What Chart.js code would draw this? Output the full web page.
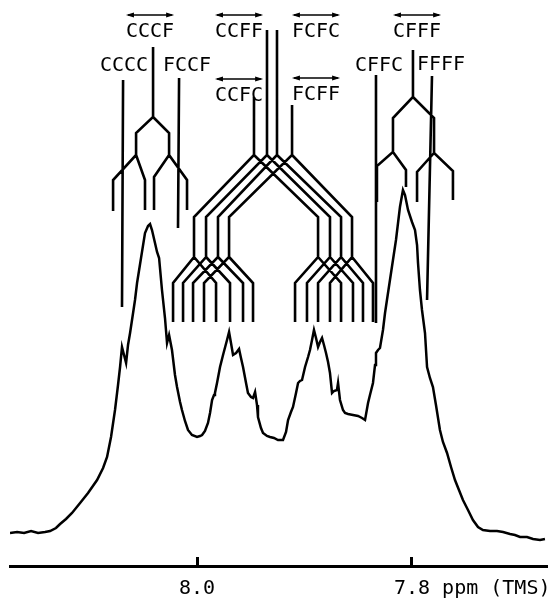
<!DOCTYPE html>
<html>
<head>
<meta charset="utf-8">
<script src="https://cdn.jsdelivr.net/npm/chart.js@4"></script>
<style>
	html, body { margin: 0; padding: 0; background: #fff; }
	canvas { display: block; }
</style>
</head>
<body>
<canvas id="nmr" width="558" height="603"></canvas>
<script>
"use strict";

// Spectrum trace: chemical shift (ppm) and signal height (arbitrary units, 0 = axis)
const shiftPpm = [
	8.1740, 8.1674, 8.1609, 8.1544, 8.1479, 8.1414, 8.1367, 8.1312, 8.1274, 8.1219,
	8.1163, 8.1088, 8.1014, 8.0930, 8.0874, 8.0837, 8.0800, 8.0763, 8.0735, 8.0716,
	8.0698, 8.0679, 8.0660, 8.0642, 8.0623, 8.0595, 8.0577, 8.0558, 8.0521, 8.0484,
	8.0456, 8.0437, 8.0419, 8.0391, 8.0372, 8.0353, 8.0326, 8.0298, 8.0279, 8.0260,
	8.0233, 8.0205, 8.0186, 8.0158, 8.0140, 8.0112, 8.0084, 8.0047, 8.0000, 7.9972,
	7.9953, 7.9926, 7.9898, 7.9879, 7.9860, 7.9842, 7.9833, 7.9814, 7.9786, 7.9758,
	7.9721, 7.9702, 7.9684, 7.9665, 7.9637, 7.9609, 7.9591, 7.9572, 7.9544, 7.9526,
	7.9498, 7.9479, 7.9460, 7.9442, 7.9433, 7.9405, 7.9386, 7.9349, 7.9321, 7.9284,
	7.9247, 7.9200, 7.9172, 7.9153, 7.9126, 7.9107, 7.9079, 7.9060, 7.9042, 7.9023,
	7.8995, 7.8967, 7.8949, 7.8930, 7.8912, 7.8893, 7.8874, 7.8856, 7.8837, 7.8819,
	7.8800, 7.8781, 7.8763, 7.8744, 7.8726, 7.8698, 7.8688, 7.8670, 7.8642, 7.8623,
	7.8595, 7.8549, 7.8502, 7.8465, 7.8437, 7.8409, 7.8391, 7.8363, 7.8344, 7.8335,
	7.8316, 7.8298, 7.8270, 7.8251, 7.8233, 7.8205, 7.8177, 7.8149, 7.8130, 7.8112,
	7.8084, 7.8065, 7.8037, 7.8000, 7.7972, 7.7953, 7.7944, 7.7926, 7.7907, 7.7879,
	7.7860, 7.7833, 7.7805, 7.7777, 7.7740, 7.7712, 7.7674, 7.7637, 7.7600, 7.7563,
	7.7526, 7.7479, 7.7433, 7.7386, 7.7340, 7.7274, 7.7209, 7.7153, 7.7088, 7.7042,
	7.6995, 7.6930, 7.6874, 7.6809, 7.6763,
];
const signal = [
	33, 34, 33, 35, 33, 34, 35, 38, 42, 47,
	53, 63, 73, 86, 98, 109, 129, 156, 181, 199,
	219, 211, 203, 221, 233, 253, 266, 283, 308, 333,
	340, 342, 336, 323, 314, 308, 276, 248, 223, 231,
	216, 191, 179, 164, 156, 145, 136, 131, 129, 130,
	131, 135, 143, 153, 166, 171, 173, 183, 199, 211,
	226, 234, 223, 211, 213, 217, 208, 199, 183, 173,
	169, 168, 174, 161, 149, 138, 133, 130, 129, 128,
	126, 126, 134, 146, 154, 159, 173, 183, 185, 186,
	199, 209, 216, 226, 236, 228, 219, 224, 228, 221,
	213, 204, 193, 173, 175, 176, 183, 166, 156, 153,
	152, 151, 150, 148, 146, 163, 171, 183, 201, 213,
	216, 218, 236, 253, 266, 286, 306, 326, 343, 359,
	376, 371, 356, 344, 336, 321, 303, 276, 256, 233,
	199, 188, 179, 161, 136, 124, 113, 99, 86, 76,
	66, 56, 46, 39, 36, 35, 35, 34, 32, 31,
	29, 29, 27, 26, 27,
];

const tickValues = [8.0, 7.8];
const unitText = "ppm (TMS)";

// Tetrad labels: name, shift of label centre, height of text baseline, overline arrow
const tetradNames = ["CCCF", "CCCC", "FCCF", "CCFF", "CCFC", "FCFC", "FCFF", "CFFF", "CFFC", "FFFF"];
const tetradPpm = [8.0437, 8.0679, 8.0093, 7.9609, 7.9609, 7.8893, 7.8893, 7.7953, 7.8307, 7.7730];
const tetradLevel = [529, 495, 495, 529, 465, 529, 466, 529, 495, 496];
const tetradArrow = [true, false, false, true, true, true, true, true, false, false];

// Splitting diagram of CCCF (left), lines as [ppm, height] points
const cccfTree = [
	[[8.0409, 519], [8.0409, 449], [8.0567, 433], [8.0567, 411], [8.0781, 386], [8.0781, 355]],
	[[8.0409, 449], [8.0260, 433], [8.0260, 411], [8.0093, 386], [8.0093, 356]],
	[[8.0567, 411], [8.0484, 386], [8.0484, 356]],
	[[8.0260, 411], [8.0400, 389], [8.0400, 356]],
];
const ccccLine = [[8.0688, 486], [8.0698, 259]];
const fccfLine = [[8.0167, 488], [8.0177, 338]];

// Splitting diagram of CFFF (right)
const cfffTree = [
	[[7.7991, 516], [7.7991, 469], [7.8177, 448], [7.8177, 414], [7.8326, 400], [7.8326, 364]],
	[[7.7991, 469], [7.7795, 448], [7.7795, 413], [7.7619, 395], [7.7619, 366]],
	[[7.8177, 414], [7.8056, 396], [7.8056, 379]],
	[[7.7795, 413], [7.7953, 394], [7.7953, 364]],
];
const cffcLine = [[7.8335, 491], [7.8335, 243]];
const ffffLine = [[7.7814, 490], [7.7860, 266]];

// Central diagram: CCFC, CCFF, FCFC, FCFF each split twice
const midRootPpm = [7.9470, 7.9349, 7.9256, 7.9116];
const midRootTop = [469, 536, 536, 461];
const midLeftNode = [8.0028, 7.9916, 7.9805, 7.9702];
const midRightNode = [7.8874, 7.8763, 7.8660, 7.8558];
const midLeftEnds = [[8.0223, 7.9823], [8.0130, 7.9693], [8.0037, 7.9572], [7.9935, 7.9479]];
const midRightEnds = [[7.9088, 7.8660], [7.8977, 7.8549], [7.8874, 7.8456], [7.8763, 7.8363]];
const midLevels = [411, 349, 309, 283, 244];

const FONT = "DejaVu Sans Mono";
const TICK_LEN = -9;
const TICK_PAD = 20;

function midTree() {
	const lines = [];
	const [split, node, sub, branch, end] = midLevels;
	for (let i = 0; i < midRootPpm.length; ++i) {
		const r = midRootPpm[i];
		const l = midLeftNode[i];
		const rr = midRightNode[i];
		lines.push([[r, midRootTop[i]], [r, split], [l, node], [l, sub], [midLeftEnds[i][0], branch], [midLeftEnds[i][0], end]]);
		lines.push([[l, sub], [midLeftEnds[i][1], branch], [midLeftEnds[i][1], end]]);
		lines.push([[r, split], [rr, node], [rr, sub], [midRightEnds[i][0], branch], [midRightEnds[i][0], end]]);
		lines.push([[rr, sub], [midRightEnds[i][1], branch], [midRightEnds[i][1], end]]);
	}
	return lines;
}

function toPoints(lines) {
	const pts = [];
	for (const line of lines) {
		for (const [x, y] of line) {
			pts.push({x: x, y: y});
		}
		// gap between separate lines
		pts.push({x: line[line.length - 1][0], y: null});
	}
	return pts;
}

const treeLines = [].concat(cccfTree, [ccccLine, fccfLine], midTree(), cfffTree, [cffcLine, ffffLine]);

const tetradLabels = {
	id: "tetradLabels",
	afterDatasetsDraw(chart) {
		const ctx = chart.ctx;
		const xs = chart.scales.x;
		const ys = chart.scales.y;
		ctx.save();
		ctx.font = `20px '${FONT}'`;
		ctx.fillStyle = "#000";
		ctx.strokeStyle = "#000";
		ctx.textAlign = "center";
		ctx.textBaseline = "alphabetic";
		tetradNames.forEach((name, i) => {
			const cx = xs.getPixelForValue(tetradPpm[i]);
			const by = ys.getPixelForValue(tetradLevel[i]);
			ctx.fillText(name, cx, by);
			if (!tetradArrow[i]) {
				return;
			}
			const w = ctx.measureText(name).width;
			const x0 = cx - w / 2;
			const x1 = cx + w / 2;
			const ay = by - 22;
			ctx.lineWidth = 1.5;
			ctx.beginPath();
			ctx.moveTo(x0 + 2, ay);
			ctx.lineTo(x1 - 2, ay);
			ctx.stroke();
			ctx.beginPath();
			ctx.moveTo(x0, ay);
			ctx.lineTo(x0 + 8, ay - 2.5);
			ctx.lineTo(x0 + 8, ay + 2.5);
			ctx.closePath();
			ctx.moveTo(x1, ay);
			ctx.lineTo(x1 - 8, ay - 2.5);
			ctx.lineTo(x1 - 8, ay + 2.5);
			ctx.closePath();
			ctx.fill();
		});
		// unit written after the last tick label
		const last = tickValues[tickValues.length - 1];
		const lx = xs.getPixelForValue(last) + ctx.measureText(last.toFixed(1)).width / 2 + ctx.measureText(" ").width;
		const ly = xs.top + TICK_LEN + TICK_PAD + 12;
		ctx.textAlign = "left";
		ctx.textBaseline = "middle";
		ctx.fillText(unitText, lx, ly);
		ctx.restore();
	}
};

new Chart(document.getElementById("nmr"), {
	type: "line",
	data: {
		datasets: [
			{
				label: "spectrum",
				data: shiftPpm.map((x, i) => ({x: x, y: signal[i]})),
				borderColor: "#000",
				borderWidth: 2.5,
				pointRadius: 0,
				tension: 0,
				fill: false,
			},
			{
				label: "splitting",
				data: toPoints(treeLines),
				borderColor: "#000",
				borderWidth: 2.6,
				pointRadius: 0,
				tension: 0,
				spanGaps: false,
				fill: false,
			},
		],
	},
	options: {
		responsive: false,
		animation: false,
		devicePixelRatio: 1,
		layout: {
			padding: {left: 10, right: 11, top: 0, bottom: 0},
		},
		plugins: {
			legend: {display: false},
			tooltip: {enabled: false},
		},
		scales: {
			x: {
				type: "linear",
				reverse: true,
				min: 7.6744,
				max: 8.1740,
				afterBuildTicks: (scale) => {
					scale.ticks = tickValues.map(v => ({value: v}));
				},
				afterFit: (scale) => {
					scale.height = 37;
				},
				border: {display: true, color: "#000", width: 3},
				grid: {
					display: true,
					drawOnChartArea: false,
					drawTicks: true,
					tickLength: TICK_LEN,
					tickWidth: 3,
					tickColor: "#000",
				},
				ticks: {
					autoSkip: false,
					maxRotation: 0,
					padding: TICK_PAD,
					color: "#000",
					font: {family: FONT, size: 20},
					callback: (value) => Number(value).toFixed(1),
				},
			},
			y: {
				display: false,
				min: 0,
				max: 566,
			},
		},
	},
	plugins: [tetradLabels],
});
</script>
</body>
</html>
